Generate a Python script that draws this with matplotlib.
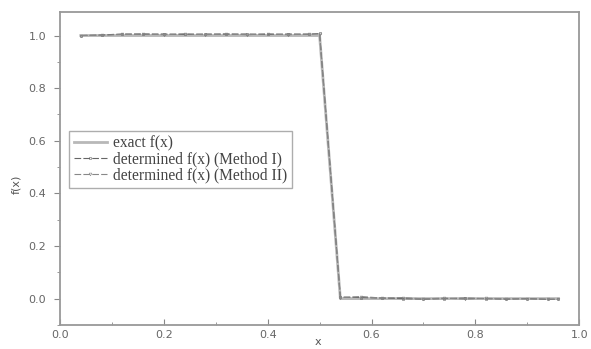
import numpy as np
import matplotlib.pyplot as plt

# exact step function
x_exact = [0.04, 0.50, 0.54, 0.96]
f_exact = [1.0, 1.0, 0.0, 0.0]

# determined values
x_pts = [0.04, 0.08, 0.12, 0.16, 0.20, 0.24, 0.28, 0.32, 0.36, 0.40, 0.44, 0.48, 0.50,
         0.54, 0.58, 0.62, 0.66, 0.70, 0.74, 0.78, 0.82, 0.86, 0.90, 0.94, 0.96]
f_method1 = [1.000, 1.002, 1.006, 1.005, 1.006, 1.004, 1.006, 1.005, 1.006, 1.004, 1.006, 1.005, 1.008,
             0.006, 0.004, 0.002, 0.000, -0.002, 0.000, 0.002, 0.000, -0.002, 0.000, -0.003, -0.002]
f_method2 = [1.000, 1.001, 1.004, 1.007, 1.003, 1.007, 1.003, 1.007, 1.003, 1.007, 1.003, 1.006, 1.006,
             0.004, 0.008, 0.002, 0.004, -0.001, 0.002, -0.002, 0.001, 0.000, -0.001, -0.002, -0.003]

fig = plt.figure(figsize=(5.91, 3.49), dpi=100)
ax = fig.add_axes([0.1015, 0.069, 0.8785, 0.897])

ax.plot(x_exact, f_exact, color='#b8b8b8', linewidth=2.0, label='exact f(x)')
ax.plot(x_pts, f_method1, color='#666666', linewidth=0.8, linestyle=(0, (6, 2)),
        marker='s', markersize=2.0, markerfacecolor='none', markeredgewidth=0.4,
        label='determined f(x) (Method I)')
ax.plot(x_pts, f_method2, color='#888888', linewidth=0.8, linestyle=(0, (6, 2)),
        marker='v', markersize=2.0, markerfacecolor='none', markeredgewidth=0.4,
        label='determined f(x) (Method II)')

ax.set_xlim(0, 1.0)
ax.set_ylim(-0.1, 1.09)
ax.set_xticks([0.0, 0.2, 0.4, 0.6, 0.8, 1.0])
ax.set_xticks(np.arange(0.1, 1.0, 0.2), minor=True)
ax.set_yticks([0.0, 0.2, 0.4, 0.6, 0.8, 1.0])
ax.set_yticks(np.arange(-0.1, 1.0, 0.2), minor=True)

for s in ax.spines.values():
    s.set_color('#999999')
    s.set_linewidth(1.3)
ax.tick_params(axis='y', which='both', direction='out', color='#888888', labelsize=8,
               labelcolor='#666666', pad=6)
ax.tick_params(axis='x', which='both', direction='in', color='#888888', labelsize=8,
               labelcolor='#666666', pad=4)
ax.tick_params(which='major', length=4)
ax.tick_params(which='minor', length=2.5)

ax.set_xlabel('x', fontsize=8, color='#555555')
ax.xaxis.set_label_coords(0.497, -0.04)
ax.set_ylabel('f(x)', fontsize=8, color='#555555')
ax.yaxis.set_label_coords(-0.075, 0.45)

leg = ax.legend(loc='lower left', bbox_to_anchor=(0.003, 0.413), fancybox=False,
                prop={'family': 'Liberation Serif', 'size': 11.2}, handlelength=2.1,
                borderpad=0.3, labelspacing=0.0, handletextpad=0.4)
leg.get_frame().set_edgecolor('#999999')
leg.get_frame().set_linewidth(1.0)
for t in leg.get_texts():
    t.set_color('#444444')

fig.savefig('out.png', dpi=100)
